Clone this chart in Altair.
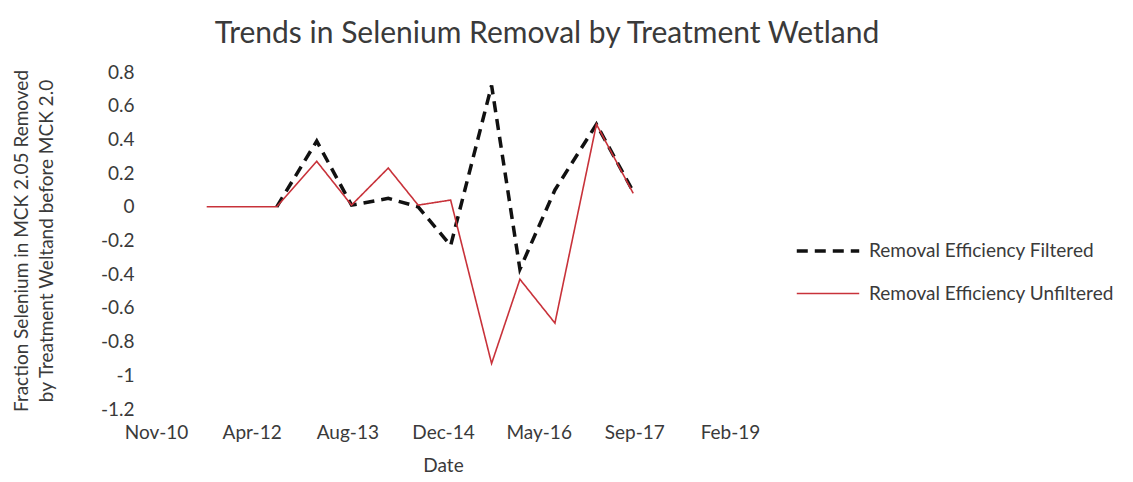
import altair as alt
import pandas as pd

# Unfiltered series (red)
unf_dates = ["2011-08-10", "2012-08-10", "2013-03-07", "2013-09-05", "2014-03-16", "2014-08-19",
             "2015-02-05", "2015-09-07", "2016-02-02", "2016-08-03", "2017-03-08", "2017-09-16"]
unf_values = [0.0, 0.0, 0.27, 0.01, 0.23, 0.01, 0.04, -0.93, -0.43, -0.69, 0.49, 0.08]

# Filtered series (black dashed)
fil_dates = ["2012-08-10", "2013-03-07", "2013-09-05", "2014-03-16", "2014-08-19",
             "2015-02-05", "2015-09-07", "2016-02-02", "2016-08-03", "2017-03-08", "2017-09-16"]
fil_values = [0.0, 0.39, 0.01, 0.05, 0.0, -0.23, 0.72, -0.37, 0.10, 0.49, 0.09]

series_names = ["Removal Efficiency Filtered", "Removal Efficiency Unfiltered"]
y_ticks = [0.8, 0.6, 0.4, 0.2, 0, -0.2, -0.4, -0.6, -0.8, -1, -1.2]
x_ticks = [(2010, 11, 18), (2012, 4, 1), (2013, 8, 14), (2014, 12, 27),
           (2016, 5, 10), (2017, 9, 22), (2019, 2, 4)]

rows = []
for d, v in zip(fil_dates, fil_values):
    rows.append({"date": d, "value": v, "series": series_names[0]})
for d, v in zip(unf_dates, unf_values):
    rows.append({"date": d, "value": v, "series": series_names[1]})
df = pd.DataFrame(rows)

FONT = "Lato"
TXT = "#3a3a3a"

tick_dt = [alt.DateTime(year=y, month=m, date=d, utc=True) for (y, m, d) in x_ticks]


def legend():
    return alt.Legend(title=None, orient="none", legendX=639, legendY=146,
                      symbolType="stroke", symbolSize=3900, labelLimit=0,
                      labelFontSize=19, labelFont=FONT, labelColor=TXT,
                      rowPadding=-2, labelOffset=8)


chart = alt.Chart(df).mark_line().encode(
    x=alt.X("date:T",
            scale=alt.Scale(type="utc", domain=[tick_dt[0], tick_dt[-1]]),
            axis=alt.Axis(values=tick_dt, labelExpr="utcFormat(datum.value, '%b-%y')",
                          title="Date", grid=False, domain=False, ticks=False,
                          labelFlush=False, labelOverlap=False,
                          labelPadding=14, titlePadding=14, labelFontSize=19,
                          titleFontSize=19, labelColor=TXT, titleColor=TXT,
                          titleFontWeight="normal", labelFont=FONT, titleFont=FONT)),
    y=alt.Y("value:Q",
            scale=alt.Scale(domain=[-1.2, 0.8], nice=False, zero=False),
            axis=alt.Axis(values=y_ticks,
                          labelExpr="toString(round(datum.value*10)/10)",
                          title=["Fraction Selenium in MCK 2.05 Removed",
                                 "by Treatment Weltand before MCK 2.0"],
                          grid=False, domain=False, ticks=False, labelPadding=22,
                          labelFontSize=19, titleFontSize=19, labelColor=TXT,
                          titleColor=TXT, titleFontWeight="normal", titlePadding=44,
                          labelFont=FONT, titleFont=FONT, titleLineHeight=25)),
    color=alt.Color("series:N",
                    scale=alt.Scale(domain=series_names, range=["#111111", "#c8323a"]),
                    legend=legend()),
    strokeDash=alt.StrokeDash("series:N",
                              scale=alt.Scale(domain=series_names, range=[[11, 7], [1, 0]]),
                              legend=legend()),
    strokeWidth=alt.StrokeWidth("series:N",
                                scale=alt.Scale(domain=series_names, range=[3.5, 1.6]),
                                legend=legend()),
).properties(
    width=574,
    height=337,
    background="white",
    title=alt.TitleParams("Trends in Selenium Removal by Treatment Wetland",
                          font=FONT, fontSize=30, fontWeight="normal", color=TXT,
                          anchor="middle", dx=104, offset=14),
    autosize=alt.AutoSizeParams(type="none"),
    padding={"left": 148, "top": 64, "right": 395, "bottom": 65},
).configure_view(stroke=None)

chart.save("out.html", embed_options={"renderer": "svg", "actions": False})
